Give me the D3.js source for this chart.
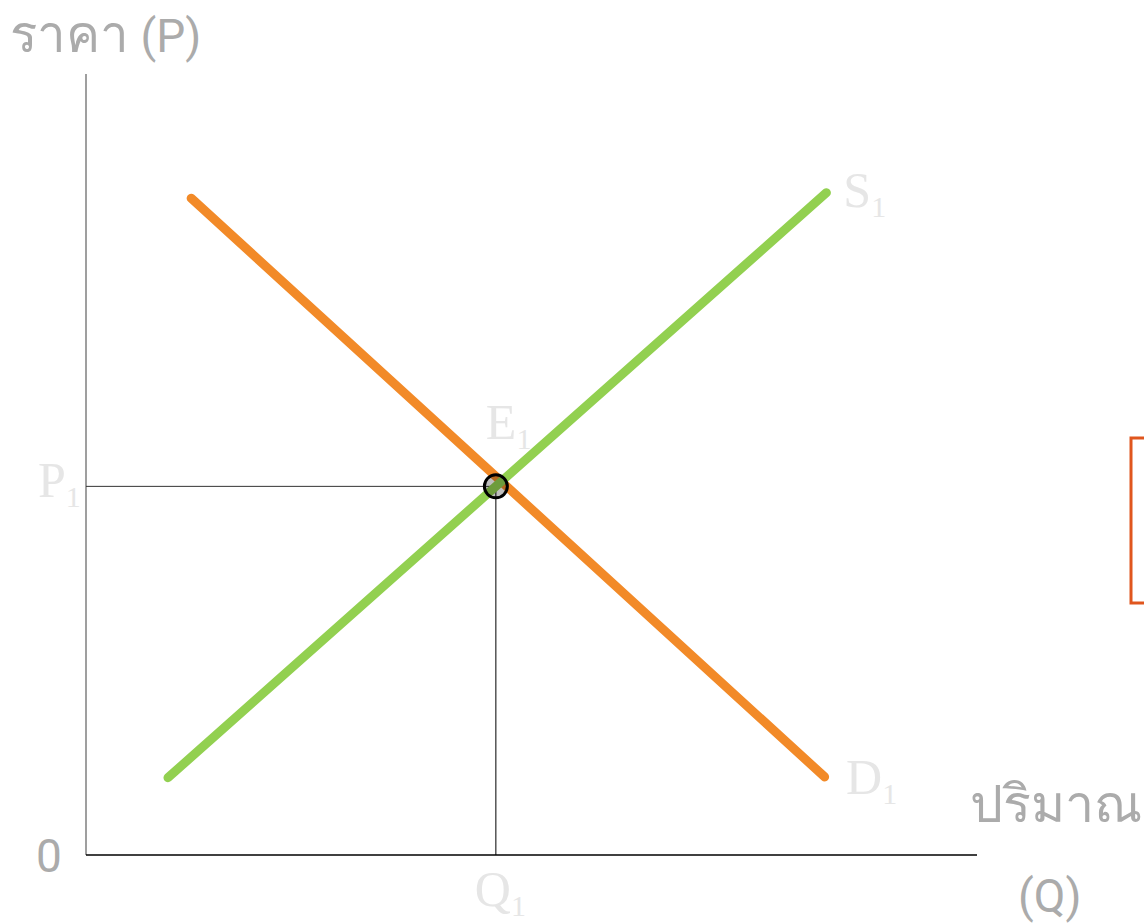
<!DOCTYPE html>
<html>
<head>
<meta charset="utf-8">
<script src="https://cdn.jsdelivr.net/npm/d3@7"></script>
<style>
  html, body { margin: 0; padding: 0; background: #fff; overflow: hidden; }
</style>
</head>
<body>
<div id="chart"></div>
<script>
// supply / demand diagram, values in abstract units (0..10 on both axes)
const demand = [[1.18, 8.41], [8.29, 1.0]]
const supply = [[0.92, 0.99], [8.31, 8.48]]
const equilibrium = [4.6, 4.72]

const curveLabels = [
  { name: 'S', sub: '1', q: 8.5, p: 8.3 },
  { name: 'D', sub: '1', q: 8.53, p: 0.78 }
]
const pointLabel = { name: 'E', sub: '1' }
const priceTick = { name: 'P', sub: '1' }
const qtyTick = { name: 'Q', sub: '1' }

const yTitle = ['ราคา', ' (P)']
const xTitle = ['ปริมาณ', '(Q)']
const originLabel = '0'

const COLORS = {
  demand: '#f28a28',
  supply: '#92d050',
  label: '#e6e6e6',
  title: '#ababab',
  box: '#e0561e'
}

const width = 1144
const height = 924

const x = d3.scaleLinear().domain([0, 10]).range([86, 977])
const y = d3.scaleLinear().domain([0, 10]).range([855, 74])

const svg = d3.select('#chart').append('svg')
  .attr('width', width)
  .attr('height', height)

// axes as plain lines (no ticks in the original)
svg.append('line')
  .attr('x1', x(0)).attr('x2', x(0))
  .attr('y1', y(0)).attr('y2', y(10))
  .attr('stroke', '#7f7f7f').attr('stroke-width', 1.5)

svg.append('line')
  .attr('x1', x(0)).attr('x2', x(10))
  .attr('y1', y(0)).attr('y2', y(0))
  .attr('stroke', '#000').attr('stroke-width', 1.5)

// guide lines to the equilibrium
svg.append('line')
  .attr('x1', x(0)).attr('x2', x(equilibrium[0]))
  .attr('y1', y(equilibrium[1])).attr('y2', y(equilibrium[1]))
  .attr('stroke', '#333').attr('stroke-width', 1)

svg.append('line')
  .attr('x1', x(equilibrium[0])).attr('x2', x(equilibrium[0]))
  .attr('y1', y(equilibrium[1])).attr('y2', y(0))
  .attr('stroke', '#000').attr('stroke-width', 1)

const line = d3.line().x((d) => x(d[0])).y((d) => y(d[1]))

svg.append('path')
  .datum(demand)
  .attr('d', line)
  .attr('fill', 'none')
  .attr('stroke', COLORS.demand)
  .attr('stroke-width', 9)
  .attr('stroke-linecap', 'round')

svg.append('path')
  .datum(supply)
  .attr('d', line)
  .attr('fill', 'none')
  .attr('stroke', COLORS.supply)
  .attr('stroke-width', 9)
  .attr('stroke-linecap', 'round')

svg.append('circle')
  .attr('cx', x(equilibrium[0]))
  .attr('cy', y(equilibrium[1]))
  .attr('r', 11.5)
  .attr('fill', 'rgba(0,0,0,0.25)')
  .attr('stroke', '#000')
  .attr('stroke-width', 3)

// serif labels with subscript
function subLabel(px, py, d) {
  const t = svg.append('text')
    .attr('x', px)
    .attr('y', py)
    .attr('font-family', '"Liberation Serif", "DejaVu Serif", serif')
    .attr('font-size', 50)
    .attr('fill', COLORS.label)
  t.append('tspan').text(d.name)
  t.append('tspan').attr('font-size', 30).attr('dy', 10).text(d.sub)
  return t
}

curveLabels.forEach((d) => subLabel(x(d.q), y(d.p), d))
subLabel(x(equilibrium[0]) - 10, y(equilibrium[1]) - 47, pointLabel)
subLabel(38, y(equilibrium[1]) + 11, priceTick)
subLabel(x(equilibrium[0]) - 21, height - 18, qtyTick)

const sans = 'Roboto, "Noto Sans", "DejaVu Sans", sans-serif'

const title = svg.append('text')
  .attr('x', 10).attr('y', 52)
  .attr('font-family', sans)
  .attr('font-size', 46)
  .attr('fill', COLORS.title)
title.append('tspan').attr('font-size', 51).text(yTitle[0])
title.append('tspan').text(yTitle[1])

svg.append('text')
  .attr('x', 36).attr('y', 872)
  .attr('font-family', sans)
  .attr('font-size', 46)
  .attr('fill', COLORS.title)
  .text(originLabel)

svg.append('text')
  .attr('x', 970).attr('y', 822)
  .attr('font-family', sans)
  .attr('font-size', 52)
  .attr('fill', COLORS.title)
  .text(xTitle[0])

svg.append('text')
  .attr('x', 1018).attr('y', 912)
  .attr('font-family', sans)
  .attr('font-size', 46)
  .attr('fill', COLORS.title)
  .text(xTitle[1])

// cropped callout box at the right edge
svg.append('rect')
  .attr('x', 1131).attr('y', 438)
  .attr('width', 60).attr('height', 165)
  .attr('fill', 'none')
  .attr('stroke', COLORS.box)
  .attr('stroke-width', 3)
</script>
</body>
</html>
